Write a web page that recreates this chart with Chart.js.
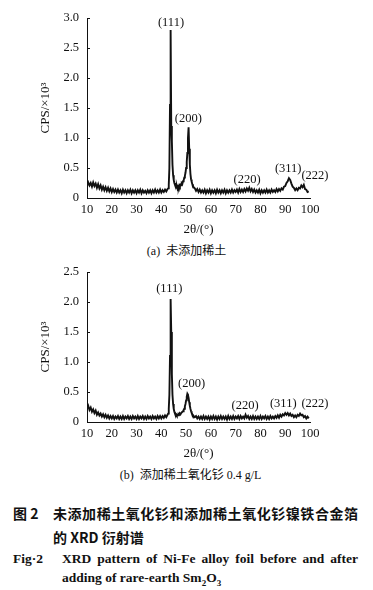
<!DOCTYPE html>
<html>
<head>
<meta charset="utf-8">
<script src="https://cdn.jsdelivr.net/npm/chart.js@4.4.1/dist/chart.umd.min.js"></script>
<style>
  body { margin: 0; background: #fff; width: 373px; height: 590px; position: relative; overflow: hidden; }
  canvas { position: absolute; left: 0; }
  .txt { position: absolute; white-space: nowrap; color: #111; font-family: 'Liberation Serif', 'Noto Sans CJK SC', serif; }
  .cap { font-size: 12px; text-align: center; width: 373px; left: 0; }
  .zh { font-family: 'Noto Sans CJK SC', sans-serif; font-weight: bold; font-size: 14px; }
  .en { font-family: 'Liberation Serif', serif; font-weight: bold; font-size: 13.5px; }
</style>
</head>
<body>
<canvas id="chartA" width="373" height="237" style="top:0"></canvas>
<div class="txt cap" style="top:241px">(a)&nbsp; 未添加稀土</div>
<canvas id="chartB" width="373" height="207" style="top:254px"></canvas>
<div class="txt cap" style="top:465px;left:4px">(b)&nbsp; 添加稀土氧化钐 0.4 g/L</div>

<div class="txt zh" style="top:503px;left:13px">图 2</div>
<div class="txt zh" style="top:503px;left:53px;width:305px;text-align:justify;text-align-last:justify;white-space:normal">未添加稀土氧化钐和添加稀土氧化钐镍铁合金箔</div>
<div class="txt zh" style="top:527px;left:53px">的 XRD 衍射谱</div>
<div class="txt en" style="top:551px;left:13px">Fig·2</div>
<div class="txt en" style="top:551px;left:62px;width:296px;text-align:justify;text-align-last:justify;white-space:normal">XRD pattern of Ni-Fe alloy foil before and after</div>
<div class="txt en" style="top:570px;left:62px">adding of rare-earth Sm<sub style="font-size:9px">2</sub>O<sub style="font-size:9px">3</sub></div>

<script>
// 2theta sampling positions (degrees), finer around the two main peaks
const angles = [
  10, 10.5, 11, 11.5, 12, 12.5, 13, 13.5, 14, 14.5,
  15, 15.5, 16, 16.5, 17, 17.5, 18, 18.5, 19, 19.5,
  20, 20.5, 21, 21.5, 22, 22.5, 23, 23.5, 24, 24.5,
  25, 25.5, 26, 26.5, 27, 27.5, 28, 28.5, 29, 29.5,
  30, 30.5, 31, 31.5, 32, 32.5, 33, 33.5, 34, 34.5,
  35, 35.5, 36, 36.5, 37, 37.5, 38, 38.5, 39, 39.5,
  40, 40.5, 41, 41.5, 42, 42.5,
  42.75, 43, 43.25, 43.5, 43.75, 44, 44.25, 44.5, 44.75, 45,
  45.25, 45.5, 45.75, 46, 46.25, 46.5, 46.75, 47, 47.25, 47.5,
  47.75, 48, 48.25, 48.5, 48.75, 49, 49.25, 49.5, 49.75, 50,
  50.25, 50.5, 50.75, 51, 51.25, 51.5, 51.75, 52, 52.25, 52.5,
  52.75, 53,
  53.5, 54, 54.5, 55, 55.5, 56, 56.5, 57, 57.5, 58,
  58.5, 59, 59.5, 60, 60.5, 61, 61.5, 62, 62.5, 63,
  63.5, 64, 64.5, 65, 65.5, 66, 66.5, 67, 67.5, 68,
  68.5, 69, 69.5, 70, 70.5, 71, 71.5, 72, 72.5, 73,
  73.5, 74, 74.5, 75, 75.5, 76, 76.5, 77, 77.5, 78,
  78.5, 79, 79.5, 80, 80.5, 81, 81.5, 82, 82.5, 83,
  83.5, 84, 84.5, 85, 85.5, 86, 86.5, 87, 87.5, 88,
  88.5, 89, 89.5, 90, 90.5, 91, 91.5, 92, 92.5, 93,
  93.5, 94, 94.5, 95, 95.5, 96, 96.5, 97, 97.5, 98,
  98.5, 99, 99.5
];

// (a) without rare earth, CPS x 10^3
const cpsA = [
  0.20, 0.26, 0.21, 0.25, 0.19, 0.26, 0.20, 0.24, 0.17, 0.23,
  0.16, 0.21, 0.14, 0.19, 0.13, 0.18, 0.12, 0.17, 0.11, 0.16,
  0.10, 0.15, 0.10, 0.14, 0.09, 0.14, 0.09, 0.13, 0.08, 0.14,
  0.09, 0.13, 0.08, 0.13, 0.09, 0.14, 0.08, 0.13, 0.09, 0.13,
  0.08, 0.13, 0.09, 0.14, 0.08, 0.13, 0.09, 0.12, 0.08, 0.13,
  0.09, 0.13, 0.08, 0.13, 0.09, 0.14, 0.09, 0.13, 0.09, 0.14,
  0.09, 0.13, 0.10, 0.14, 0.11, 0.15,
  0.16, 0.22, 0.50, 1.55, 2.80, 1.20, 0.95, 0.55, 0.38, 0.30,
  0.25, 0.22, 0.19, 0.17, 0.20, 0.16, 0.19, 0.17, 0.21, 0.19,
  0.22, 0.21, 0.25, 0.24, 0.28, 0.29, 0.34, 0.37, 0.42, 0.50,
  0.60, 0.75, 1.00, 1.18, 0.82, 0.56, 0.40, 0.31, 0.27, 0.23,
  0.21, 0.18,
  0.16, 0.12, 0.15, 0.10, 0.14, 0.09, 0.13, 0.09, 0.14, 0.08,
  0.13, 0.09, 0.14, 0.08, 0.13, 0.09, 0.13, 0.08, 0.14, 0.09,
  0.13, 0.08, 0.13, 0.09, 0.14, 0.08, 0.13, 0.09, 0.13, 0.09,
  0.14, 0.09, 0.13, 0.10, 0.14, 0.09, 0.15, 0.10, 0.14, 0.10,
  0.15, 0.11, 0.16, 0.12, 0.17, 0.11, 0.15, 0.10, 0.14, 0.09,
  0.13, 0.09, 0.14, 0.08, 0.13, 0.09, 0.13, 0.09, 0.14, 0.09,
  0.13, 0.09, 0.14, 0.10, 0.13, 0.10, 0.15, 0.11, 0.15, 0.12,
  0.16, 0.14, 0.19, 0.20, 0.25, 0.28, 0.33, 0.30, 0.24, 0.19,
  0.17, 0.13, 0.16, 0.13, 0.17, 0.16, 0.21, 0.18, 0.22, 0.15,
  0.14, 0.10, 0.11
];

// (b) with 0.4 g/L Sm2O3, CPS x 10^3
const cpsB = [
  0.22, 0.27, 0.20, 0.24, 0.17, 0.21, 0.15, 0.19, 0.12, 0.16,
  0.11, 0.14, 0.09, 0.13, 0.08, 0.12, 0.07, 0.11, 0.06, 0.10,
  0.06, 0.10, 0.05, 0.09, 0.06, 0.10, 0.05, 0.09, 0.05, 0.10,
  0.05, 0.09, 0.06, 0.10, 0.05, 0.09, 0.05, 0.10, 0.06, 0.09,
  0.05, 0.10, 0.05, 0.09, 0.06, 0.10, 0.05, 0.09, 0.05, 0.10,
  0.06, 0.09, 0.05, 0.10, 0.06, 0.09, 0.05, 0.10, 0.06, 0.10,
  0.06, 0.10, 0.07, 0.11, 0.08, 0.12,
  0.14, 0.22, 0.45, 1.10, 2.05, 1.50, 0.80, 0.45, 0.30, 0.22,
  0.17, 0.14, 0.12, 0.13, 0.11, 0.12, 0.11, 0.13, 0.12, 0.14,
  0.13, 0.15, 0.15, 0.17, 0.18, 0.20, 0.22, 0.26, 0.30, 0.36,
  0.42, 0.47, 0.45, 0.40, 0.33, 0.27, 0.22, 0.18, 0.15, 0.13,
  0.11, 0.10,
  0.08, 0.10, 0.06, 0.09, 0.05, 0.09, 0.05, 0.10, 0.05, 0.09,
  0.05, 0.09, 0.04, 0.09, 0.05, 0.10, 0.05, 0.09, 0.04, 0.09,
  0.05, 0.10, 0.05, 0.09, 0.05, 0.09, 0.04, 0.10, 0.05, 0.09,
  0.05, 0.10, 0.05, 0.09, 0.06, 0.10, 0.05, 0.10, 0.06, 0.09,
  0.06, 0.12, 0.07, 0.10, 0.05, 0.09, 0.05, 0.10, 0.05, 0.09,
  0.05, 0.09, 0.05, 0.10, 0.05, 0.09, 0.06, 0.10, 0.05, 0.09,
  0.05, 0.10, 0.06, 0.09, 0.06, 0.10, 0.07, 0.11, 0.07, 0.12,
  0.09, 0.13, 0.11, 0.15, 0.12, 0.15, 0.11, 0.14, 0.10, 0.12,
  0.08, 0.11, 0.08, 0.12, 0.10, 0.14, 0.11, 0.12, 0.08, 0.10,
  0.06, 0.09, 0.06
];

// peak labels: text, where the label sits (angle, CPS)
const peakNames = ['(111)', '(200)', '(220)', '(311)', '(222)'];
const peakAngleA = [43.9, 50.9, 74.6, 91.2, 102];
const peakCpsA = [2.92, 1.32, 0.30, 0.48, 0.37];
const peakAngleB = [43.2, 52.2, 73.8, 89.2, 102];
const peakCpsB = [2.22, 0.63, 0.27, 0.31, 0.31];

const xMin = 10, xMax = 100, xStep = 10;
const yMaxA = 3.0, yMaxB = 2.5, yStep = 0.5;

const serif = "'Liberation Serif', 'Times New Roman', serif";
const ink = '#111';

// writes the (hkl) labels next to the peaks
const peakLabelPlugin = {
  id: 'peakLabels',
  afterDatasetsDraw(chart, args, opts) {
    const ctx = chart.ctx;
    ctx.save();
    ctx.font = '12.5px ' + serif;
    ctx.fillStyle = ink;
    ctx.textAlign = 'center';
    ctx.textBaseline = 'middle';
    for (let i = 0; i < opts.names.length; i++) {
      const px = chart.scales.x.getPixelForValue(opts.xs[i]);
      const py = chart.scales.y.getPixelForValue(opts.ys[i]);
      ctx.fillText(opts.names[i], px, py);
    }
    ctx.restore();
  }
};

// short tick marks pointing into the plot on the y axis
const innerTicksPlugin = {
  id: 'innerTicks',
  afterDraw(chart) {
    const ctx = chart.ctx;
    const y = chart.scales.y;
    ctx.save();
    ctx.strokeStyle = ink;
    ctx.lineWidth = 1;
    y.ticks.forEach(t => {
      const py = Math.round(y.getPixelForValue(t.value)) + 0.5;
      ctx.beginPath();
      ctx.moveTo(y.right, py);
      ctx.lineTo(y.right + 3, py);
      ctx.stroke();
    });
    ctx.restore();
  }
};

function makeChart(id, values, yMax, names, xs, ys) {
  const ctx = document.getElementById(id).getContext('2d');
  return new Chart(ctx, {
    type: 'line',
    data: {
      labels: angles,
      datasets: [{
        data: angles.map((a, i) => ({ x: a, y: values[i] })),
        borderColor: ink,
        borderWidth: 1.9,
        pointRadius: 0,
        tension: 0,
        fill: false
      }]
    },
    options: {
      responsive: false,
      animation: false,
      layout: { padding: { top: 18, right: 63, bottom: 0, left: 0 } },
      plugins: {
        legend: { display: false },
        tooltip: { enabled: false },
        peakLabels: { names: names, xs: xs, ys: ys }
      },
      scales: {
        x: {
          type: 'linear',
          min: xMin,
          max: xMax,
          ticks: { stepSize: xStep, color: ink, font: { family: serif, size: 12.5 }, padding: 4, maxRotation: 0 },
          grid: { display: false, drawTicks: false },
          border: { display: true, color: ink, width: 1 },
          title: { display: true, text: '2θ/(°)', color: ink, font: { family: serif, size: 13 }, padding: { top: 0, bottom: 0 } },
          afterFit(scale) { scale.height = 39; }
        },
        y: {
          min: 0,
          max: yMax,
          ticks: {
            stepSize: yStep, color: ink, font: { family: serif, size: 12.5 }, padding: 8,
            callback: v => v === 0 ? '0' : v.toFixed(1)
          },
          grid: { display: false, drawTicks: false },
          border: { display: true, color: ink, width: 1 },
          title: { display: true, text: 'CPS/×10³', color: ink, font: { family: serif, size: 13 }, padding: { top: 38, bottom: 0 } },
          afterFit(scale) { scale.width = 87; }
        }
      }
    },
    plugins: [peakLabelPlugin, innerTicksPlugin]
  });
}

makeChart('chartA', cpsA, yMaxA, peakNames, peakAngleA, peakCpsA);
makeChart('chartB', cpsB, yMaxB, peakNames, peakAngleB, peakCpsB);
</script>
</body>
</html>
